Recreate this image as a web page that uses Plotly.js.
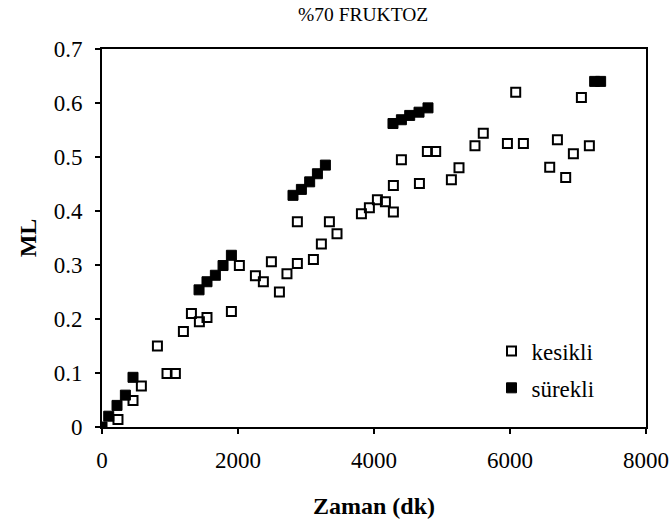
<!DOCTYPE html>
<html>
<head>
<meta charset="utf-8">
<script src="https://cdn.plot.ly/plotly-3.0.1.min.js"></script>
<style>html,body{margin:0;padding:0;background:#fff;}#chart{width:670px;height:526px;}</style>
</head>
<body>
<div id="chart"></div>
<script>
const kesikliX = [235, 456, 579, 815, 956, 1079, 1197, 1315, 1432, 1544, 1903, 2020, 2256, 2373, 2491, 2609, 2720, 2873, 2873, 3109, 3226, 3344, 3456, 3815, 3932, 4050, 4168, 4285, 4285, 4403, 4668, 4785, 4907, 5138, 5250, 5485, 5607, 5962, 6084, 6197, 6584, 6697, 6819, 6932, 7050, 7167];
const kesikliY = [0.014, 0.049, 0.076, 0.150, 0.099, 0.099, 0.177, 0.210, 0.195, 0.203, 0.214, 0.299, 0.280, 0.269, 0.306, 0.250, 0.284, 0.303, 0.380, 0.310, 0.339, 0.380, 0.358, 0.395, 0.406, 0.421, 0.417, 0.398, 0.447, 0.495, 0.451, 0.510, 0.510, 0.458, 0.480, 0.521, 0.544, 0.525, 0.620, 0.525, 0.481, 0.532, 0.462, 0.506, 0.610, 0.521];
const surekliX = [0, 99, 221, 344, 456, 1427, 1544, 1667, 1780, 1903, 2809, 2932, 3054, 3168, 3285, 4279, 4403, 4525, 4662, 4794, 7245, 7333];
const surekliY = [0, 0.020, 0.040, 0.059, 0.092, 0.254, 0.269, 0.281, 0.299, 0.318, 0.429, 0.440, 0.454, 0.469, 0.485, 0.562, 0.569, 0.577, 0.583, 0.591, 0.640, 0.640];
const xTicks = [0, 2000, 4000, 6000, 8000];
const yTicks = [0, 0.1, 0.2, 0.3, 0.4, 0.5, 0.6, 0.7];
const yTickText = ['0', '0.1', '0.2', '0.3', '0.4', '0.5', '0.6', '0.7'];

const font = '"Liberation Serif", "Times New Roman", serif';
const traces = [
  {x: kesikliX, y: kesikliY, name: 'kesikli', type: 'scatter', mode: 'markers', legendgroup: 'a',
   marker: {symbol: 'square-open', size: 9, color: '#000', line: {width: 2, color: '#000'}}},
  {x: surekliX, y: surekliY, name: 'sürekli', type: 'scatter', mode: 'markers', legendgroup: 'b',
   marker: {symbol: 'square', size: 10, color: '#000', line: {width: 1, color: '#000'}}}
];
const layout = {
  width: 670, height: 526,
  margin: {l: 102, r: 24, t: 49, b: 99},
  paper_bgcolor: '#fff', plot_bgcolor: '#fff',
  font: {family: font, color: '#000', size: 23},
  title: {text: '%70 FRUKTOZ', font: {family: font, size: 19.5, color: '#000'}, x: 0.48, xref: 'paper', xanchor: 'center', y: 0.973, yanchor: 'middle'},
  showlegend: true,
  legend: {x: 0.716, y: 0.258, xanchor: 'left', yanchor: 'top', bgcolor: 'rgba(0,0,0,0)', font: {family: font, size: 23, color: '#000'}, tracegroupgap: 4},
  xaxis: {
    range: [0, 8000], tickvals: xTicks, ticktext: xTicks.map(String),
    showgrid: false, zeroline: false, showline: true, linecolor: '#000', linewidth: 2, mirror: true,
    ticks: 'outside', ticklen: 5, tickwidth: 1.5, tickcolor: '#000', ticklabelstandoff: 6,
    tickfont: {family: font, size: 23, color: '#000'},
    title: {text: '<b>Zaman (dk)</b>', font: {family: font, size: 24, color: '#000'}, standoff: 26}
  },
  yaxis: {
    range: [0, 0.7], tickvals: yTicks, ticktext: yTickText,
    showgrid: false, zeroline: false, showline: true, linecolor: '#000', linewidth: 2, mirror: true,
    ticks: 'outside', ticklen: 5, tickwidth: 1.5, tickcolor: '#000', ticklabelstandoff: 8,
    tickfont: {family: font, size: 23, color: '#000'},
    title: {text: '<b>ML</b>', font: {family: font, size: 24, color: '#000'}, standoff: 10}
  }
};
Plotly.newPlot('chart', traces, layout, {displayModeBar: false, staticPlot: true});
</script>
</body>
</html>
